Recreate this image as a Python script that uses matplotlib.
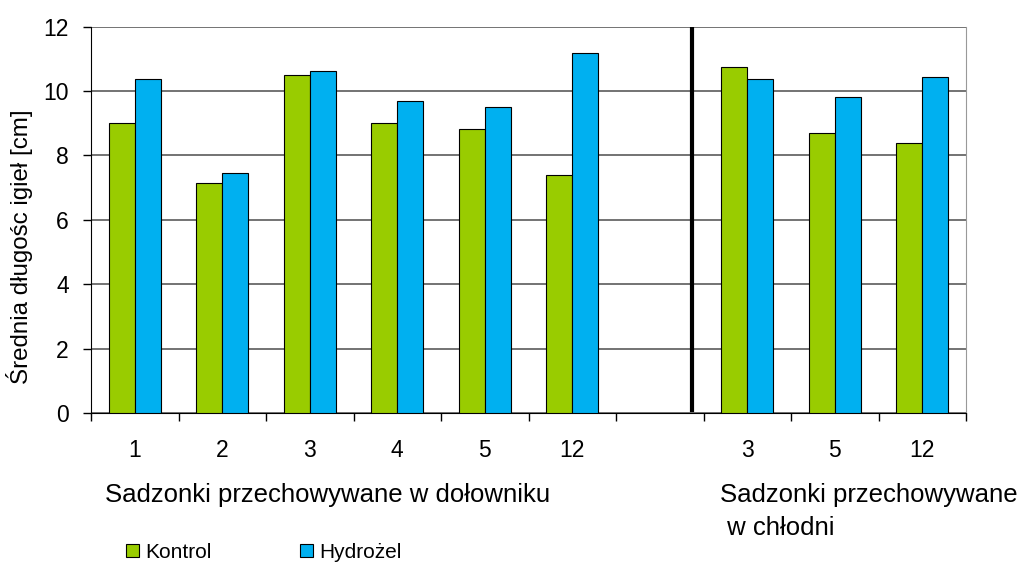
import numpy as np
import matplotlib
matplotlib.use("Agg")
import matplotlib.pyplot as plt
from matplotlib.patches import Patch

plt.rcParams["font.family"] = ["Liberation Sans", "DejaVu Sans"]

# --- data ---
categories = ["1", "2", "3", "4", "5", "12", "", "3", "5", "12"]
kontrol = [9.0, 7.14, 10.49, 9.0, 8.82, 7.39, np.nan, 10.75, 8.69, 8.38]
hydrozel = [10.36, 7.44, 10.62, 9.69, 9.5, 11.18, np.nan, 10.36, 9.81, 10.43]
series_names = ["Kontrol", "Hydrożel"]
series_colors = ["#99CC00", "#00B0F0"]
group_labels = ["Sadzonki przechowywane w dołowniku", "Sadzonki przechowywane", " w chłodni"]
y_label = "Średnia długośc igieł [cm]"

W, H = 1026, 563
fig = plt.figure(figsize=(W / 100, H / 100), dpi=100)
ax = fig.add_axes([91 / W, 1 - 413 / H, (966 - 91) / W, (413 - 26.7) / H])

x = np.arange(len(categories))
bw = 0.297
ax.bar(x - bw / 2, kontrol, bw, color=series_colors[0], edgecolor="black", linewidth=0.8, zorder=3)
ax.bar(x + bw / 2, hydrozel, bw, color=series_colors[1], edgecolor="black", linewidth=0.8, zorder=3)

# separator between the two storage groups
ax.plot([6.37, 6.37], [0.1, 12], color="black", linewidth=3, zorder=4)

ax.set_xlim(-0.5, len(categories) - 0.5)
ax.set_ylim(0, 12)
ax.set_yticks(np.arange(0, 13, 2))
ax.yaxis.grid(True, color="#4d4d4d", linewidth=1.1)
ax.set_axisbelow(True)

ax.set_xticks(x)
ax.set_xticklabels(categories, fontsize=16.5)
ax.set_xticks(np.arange(-0.5, len(categories), 1), minor=True)
ax.tick_params(axis="x", which="major", length=0, pad=19)
ax.tick_params(axis="x", which="minor", length=6, width=1, direction="out")
ax.tick_params(axis="y", length=6, width=1, direction="out", pad=10, labelsize=16.5)

ax.spines["top"].set_visible(False)
ax.spines["right"].set_color("#999999")
ax.spines["left"].set_color("black")
ax.spines["bottom"].set_color("black")

fig.text(20 / W, 1 - 247 / H, y_label, fontsize=17.4, rotation=90, ha="center", va="center")

fig.text(105 / W, 1 - 501.7 / H, group_labels[0], fontsize=18.5, va="baseline", ha="left")
fig.text(720 / W, 1 - 501.7 / H, group_labels[1], fontsize=18.5, va="baseline", ha="left")
fig.text(720 / W, 1 - 535 / H, group_labels[2], fontsize=18.5, va="baseline", ha="left")

handles = [Patch(facecolor=c, edgecolor="black", linewidth=0.8) for c in series_colors]
fig.legend(handles, series_names, loc="center left", bbox_to_anchor=(125.7 / W, 1 - 552.5 / H),
           ncol=2, frameon=False, fontsize=15, handlelength=0.65, handleheight=0.58,
           handletextpad=0.31, columnspacing=4.2, borderpad=0, borderaxespad=0)

fig.savefig("out.png", dpi=100)
